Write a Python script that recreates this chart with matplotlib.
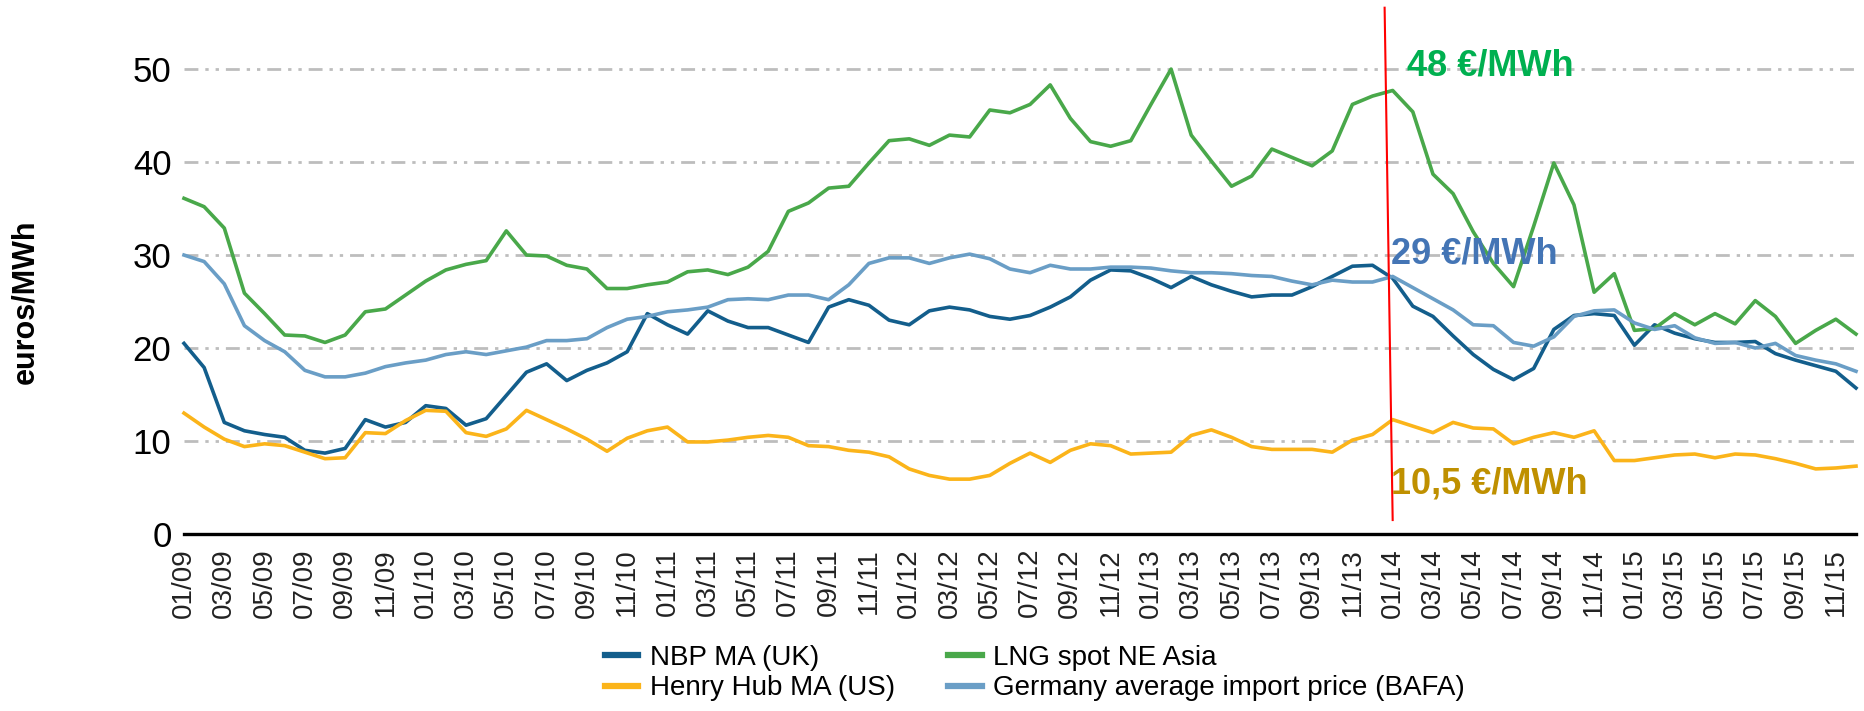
import matplotlib
matplotlib.use("Agg")
import matplotlib.pyplot as plt

# monthly series, 01/09 .. 12/15 (EUR/MWh)
NBP_UK = [
    20.5, 17.9, 12.0, 11.1, 10.7, 10.4, 9.0, 8.7, 9.2, 12.3, 11.5, 12.0,
    13.8, 13.5, 11.7, 12.4, 14.9, 17.4, 18.3, 16.5, 17.6, 18.4, 19.6, 23.7,
    22.5, 21.5, 24.0, 22.9, 22.2, 22.2, 21.4, 20.6, 24.4, 25.2, 24.6, 23.0,
    22.5, 24.0, 24.4, 24.1, 23.4, 23.1, 23.5, 24.4, 25.5, 27.3, 28.4, 28.3,
    27.5, 26.5, 27.7, 26.8, 26.1, 25.5, 25.7, 25.7, 26.6, 27.7, 28.8, 28.9,
    27.5, 24.5, 23.4, 21.3, 19.3, 17.7, 16.6, 17.8, 22.0, 23.5, 23.7, 23.5,
    20.3, 22.5, 21.6, 21.0, 20.6, 20.6, 20.7, 19.4, 18.7, 18.1, 17.5, 15.7,
]
HENRY_HUB_US = [
    13.0, 11.5, 10.2, 9.4, 9.7, 9.5, 8.8, 8.1, 8.2, 10.9, 10.8, 12.2,
    13.3, 13.2, 10.9, 10.5, 11.3, 13.3, 12.3, 11.3, 10.2, 8.9, 10.3, 11.1,
    11.5, 9.9, 9.9, 10.1, 10.4, 10.6, 10.4, 9.5, 9.4, 9.0, 8.8, 8.3,
    7.0, 6.3, 5.9, 5.9, 6.3, 7.6, 8.7, 7.7, 9.0, 9.7, 9.5, 8.6,
    8.7, 8.8, 10.6, 11.2, 10.4, 9.4, 9.1, 9.1, 9.1, 8.8, 10.1, 10.7,
    12.3, 11.6, 10.9, 12.0, 11.4, 11.3, 9.7, 10.4, 10.9, 10.4, 11.1, 7.9,
    7.9, 8.2, 8.5, 8.6, 8.2, 8.6, 8.5, 8.1, 7.6, 7.0, 7.1, 7.3,
]
LNG_NE_ASIA = [
    36.1, 35.2, 32.9, 25.9, 23.7, 21.4, 21.3, 20.6, 21.4, 23.9, 24.2, 25.7,
    27.2, 28.4, 29.0, 29.4, 32.6, 30.0, 29.9, 28.9, 28.5, 26.4, 26.4, 26.8,
    27.1, 28.2, 28.4, 27.9, 28.7, 30.4, 34.7, 35.6, 37.2, 37.4, 39.9, 42.3,
    42.5, 41.8, 42.9, 42.7, 45.6, 45.3, 46.2, 48.3, 44.7, 42.2, 41.7, 42.3,
    46.2, 50.0, 42.9, 40.1, 37.4, 38.5, 41.4, 40.5, 39.6, 41.2, 46.2, 47.1,
    47.7, 45.4, 38.7, 36.6, 32.5, 29.1, 26.6, 33.1, 39.9, 35.4, 26.0, 28.0,
    21.9, 22.1, 23.7, 22.5, 23.7, 22.6, 25.1, 23.4, 20.5, 21.9, 23.1, 21.5,
]
BAFA_DE = [
    30.0, 29.3, 26.9, 22.4, 20.8, 19.6, 17.6, 16.9, 16.9, 17.3, 18.0, 18.4,
    18.7, 19.3, 19.6, 19.3, 19.7, 20.1, 20.8, 20.8, 21.0, 22.2, 23.1, 23.4,
    23.9, 24.1, 24.4, 25.2, 25.3, 25.2, 25.7, 25.7, 25.2, 26.8, 29.1, 29.7,
    29.7, 29.1, 29.7, 30.1, 29.6, 28.5, 28.1, 28.9, 28.5, 28.5, 28.7, 28.7,
    28.6, 28.3, 28.1, 28.1, 28.0, 27.8, 27.7, 27.2, 26.8, 27.3, 27.1, 27.1,
    27.7, 26.5, 25.3, 24.1, 22.5, 22.4, 20.6, 20.2, 21.2, 23.4, 24.0, 24.1,
    22.7, 22.0, 22.4, 21.1, 20.5, 20.6, 20.0, 20.5, 19.2, 18.7, 18.3, 17.5,
]

MONTHS = [f"{m:02d}/{y:02d}" for y in range(9, 16) for m in range(1, 13)]
TICK_LABELS = MONTHS[::2]
Y_TICKS = [0, 10, 20, 30, 40, 50]

SERIES = [
    ("NBP MA (UK)", NBP_UK, "#135E8C"),
    ("Henry Hub MA (US)", HENRY_HUB_US, "#FBB41A"),
    ("LNG spot NE Asia", LNG_NE_ASIA, "#49A84A"),
    ("Germany average import price (BAFA)", BAFA_DE, "#6A9EC6"),
]

MARKER_MONTH = "01/14"
LABELS = [
    ("48 €/MWh", 50.3, "#00B050"),
    ("29 €/MWh", 30.1, "#4475B5"),
    ("10,5 €/MWh", 5.4, "#BF9000"),
]

FONT = "Liberation Sans"

W, H = 1864, 711
fig = plt.figure(figsize=(W / 100, H / 100), dpi=100)
ax = fig.add_axes([184 / W, (H - 534) / H, (1856 - 184) / W, 530 / H])

xs = list(range(len(MONTHS)))
draw_order = [2, 3, 0, 1]
for idx in draw_order:
    name, values, color = SERIES[idx]
    ax.plot(xs, values, color=color, lw=2.6, clip_on=False, zorder=3 + idx * 0.1)

ax.set_xlim(0, len(MONTHS) - 1)
ax.set_ylim(0, 57)

for v in Y_TICKS[1:]:
    ax.axhline(v, color="#BDBDBD", lw=2.0, ls=(0, (5, 2.5, 1.2, 2.5, 1.2, 2.5)), zorder=1)

for side in ["top", "right", "left"]:
    ax.spines[side].set_visible(False)
ax.spines["bottom"].set_linewidth(2.4)
ax.spines["bottom"].set_color("black")

ax.set_yticks(Y_TICKS)
ax.set_yticklabels([str(v) for v in Y_TICKS], fontsize=25, family=FONT)
ax.set_xticks(xs[::2])
ax.set_xticklabels(TICK_LABELS, rotation=90, fontsize=20, family=FONT, color="#222222")
ax.tick_params(axis="y", length=0, pad=9)
ax.tick_params(axis="x", length=0, pad=10)

fig.text(25 / W, 1 - 302 / H, "euros/MWh", rotation=90, ha="center", va="center",
         fontsize=22, fontweight="bold", family=FONT)

mx = MONTHS.index(MARKER_MONTH)
ax.plot([mx - 0.4, mx], [56.6, 1.5], color="red", lw=1.5, clip_on=False, zorder=5)

for text, yv, color in LABELS:
    ax.text(mx + (0.7 if text.startswith("48") else -0.1), yv, text, color=color,
            fontsize=26, fontweight="bold", family=FONT,
            ha="left", va="center", zorder=6)

handles = [plt.Line2D([], [], color=c, lw=4.5) for _, _, c in SERIES]
fig.legend(handles, [n for n, _, _ in SERIES], ncol=2, frameon=False,
           loc="upper left", bbox_to_anchor=(605 / W, 1 - 645 / H),
           borderpad=0, borderaxespad=0, handlelength=1.2, handletextpad=0.43,
           columnspacing=1.9, labelspacing=0.16,
           prop={"family": FONT, "size": 20})

fig.savefig("out.png", dpi=100)
